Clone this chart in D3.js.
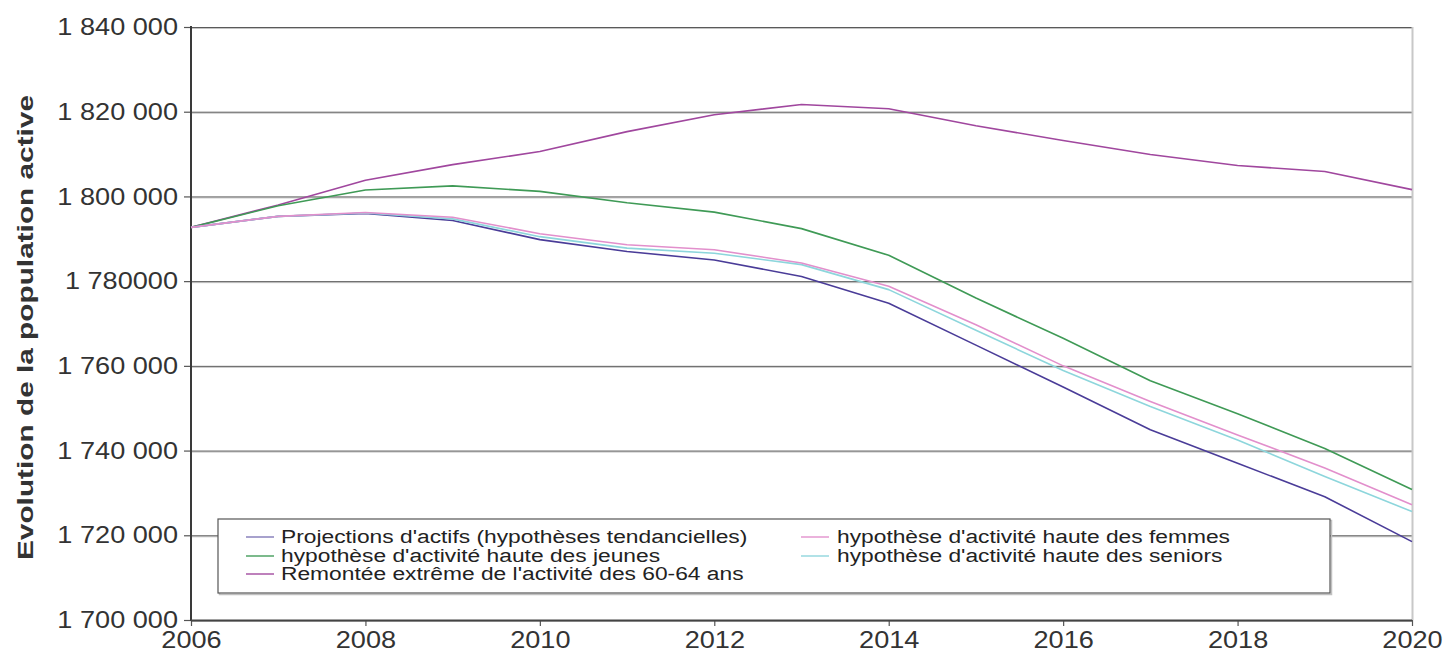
<!DOCTYPE html>
<html>
<head>
<meta charset="utf-8">
<script src="https://cdn.jsdelivr.net/npm/d3@7/dist/d3.min.js"></script>
<style>
  html, body { margin: 0; padding: 0; background: #fff; }
  svg { display: block; font-family: "Liberation Sans", Arial, sans-serif; }
</style>
</head>
<body>
<svg id="chart" width="1451" height="668"></svg>
<script>
// ---- data ----
const years = [2006, 2007, 2008, 2009, 2010, 2011, 2012, 2013, 2014, 2015, 2016, 2017, 2018, 2019, 2020];
const projections = [1792700, 1795300, 1796000, 1794300, 1789800, 1787000, 1785000, 1781100, 1774800, 1764900, 1755000, 1744900, 1737000, 1729100, 1718500];
const jeunes      = [1792700, 1797800, 1801500, 1802500, 1801200, 1798500, 1796300, 1792400, 1786100, 1776000, 1766500, 1756500, 1748700, 1740500, 1730800];
const remontee    = [1792700, 1798000, 1803800, 1807500, 1810600, 1815300, 1819300, 1821700, 1820700, 1816700, 1813200, 1809900, 1807300, 1805900, 1801600];
const femmes      = [1792700, 1795300, 1796200, 1795100, 1791200, 1788600, 1787400, 1784300, 1778800, 1769700, 1760000, 1751600, 1743700, 1735900, 1727200];
const seniors     = [1792700, 1795300, 1796100, 1794700, 1790500, 1787800, 1786600, 1783900, 1778000, 1768400, 1758900, 1750400, 1742500, 1733900, 1725600];
const yTickValues = [1700000, 1720000, 1740000, 1760000, 1780000, 1800000, 1820000, 1840000];
const yTickLabels = ["1 700 000", "1 720 000", "1 740 000", "1 760 000", "1 780000", "1 800 000", "1 820 000", "1 840 000"];
const xTickValues = [2006, 2008, 2010, 2012, 2014, 2016, 2018, 2020];
const seriesNames = [
  "Projections d'actifs (hypothèses tendancielles)",
  "hypothèse d'activité haute des jeunes",
  "Remontée extrême de l'activité des 60-64 ans",
  "hypothèse d'activité haute des femmes",
  "hypothèse d'activité haute des seniors"
];
const yTitle = "Evolution de la population active";

// ---- layout ----
const L = 191, R = 1412, T = 27, B = 620;
const STRETCH = 1.13;
const LEGEND_STRETCH = 1.265;
const svg = d3.select("#chart");
const x = d3.scaleLinear().domain([2006, 2020]).range([L, R]);
const y = d3.scaleLinear().domain([1700000, 1840000]).range([B, T]);

function stretch(sel, k) {
  sel.each(function () {
    const w = this.getComputedTextLength();
    d3.select(this).attr("textLength", w * k).attr("lengthAdjust", "spacingAndGlyphs");
  });
}

// gridlines (dark line + light shadow)
const grid = svg.append("g");
yTickValues.forEach(v => {
  grid.append("line").attr("x1", L).attr("x2", R).attr("y1", y(v) + 1.5).attr("y2", y(v) + 1.5)
    .attr("stroke", "#c4c4c4").attr("stroke-width", 1);
  grid.append("line").attr("x1", L).attr("x2", R).attr("y1", y(v) + 0.5).attr("y2", y(v) + 0.5)
    .attr("stroke", "#5a5a5a").attr("stroke-width", 1);
});
// right border
svg.append("line").attr("x1", R + 0.5).attr("x2", R + 0.5).attr("y1", T).attr("y2", B)
  .attr("stroke", "#c8c8c8").attr("stroke-width", 2);

// y axis
const yAxis = d3.axisLeft(y).tickValues(yTickValues)
  .tickFormat((d, i) => yTickLabels[i]).tickSize(7).tickPadding(6);
const gy = svg.append("g").attr("transform", `translate(${L},0)`).call(yAxis);
gy.select(".domain").remove();
gy.selectAll(".tick line").attr("stroke", "#555").attr("stroke-width", 1.2);
gy.selectAll(".tick text").attr("font-size", 24).attr("fill", "#333")
  .attr("font-family", "Liberation Sans, Arial, sans-serif").call(stretch, STRETCH);
svg.append("line").attr("x1", L).attr("x2", L).attr("y1", T - 1).attr("y2", B + 1)
  .attr("stroke", "#3a3a3a").attr("stroke-width", 2);

// x axis
const xAxis = d3.axisBottom(x).tickValues(xTickValues).tickFormat(d3.format("d"))
  .tickSize(6).tickPadding(5);
const gx = svg.append("g").attr("transform", `translate(0,${B})`).call(xAxis);
gx.select(".domain").remove();
gx.selectAll(".tick line").attr("stroke", "#555").attr("stroke-width", 1.2);
gx.selectAll(".tick text").attr("font-size", 24).attr("fill", "#333")
  .attr("font-family", "Liberation Sans, Arial, sans-serif").call(stretch, STRETCH);
svg.append("line").attr("x1", L).attr("x2", R).attr("y1", B + 0.5).attr("y2", B + 0.5)
  .attr("stroke", "#444").attr("stroke-width", 2);

// y title
svg.append("text")
  .attr("transform", `translate(33,${(95 + 560) / 2}) rotate(-90)`)
  .attr("text-anchor", "middle")
  .attr("font-size", 22).attr("font-weight", "bold").attr("fill", "#333")
  .attr("textLength", 465).attr("lengthAdjust", "spacingAndGlyphs")
  .text(yTitle);

// lines
const colors = ["#4a3c98", "#3f9a56", "#a0479e", "#e28fcc", "#8dd6dc"];
const allSeries = [projections, jeunes, remontee, femmes, seniors];
const line = d3.line().x((d, i) => x(years[i])).y(d => y(d));
const drawOrder = [2, 1, 0, 4, 3];
drawOrder.forEach(k => {
  svg.append("path").datum(allSeries[k]).attr("d", line)
    .attr("fill", "none").attr("stroke", colors[k]).attr("stroke-width", 1.6)
    .attr("stroke-linejoin", "round");
});

// legend
const lg = svg.append("g");
const lx0 = 218, ly0 = 519, lw = 1330 - 218, lh = 593 - 519;
lg.append("rect").attr("x", lx0 + 1.5).attr("y", ly0 + 1.5).attr("width", lw).attr("height", lh)
  .attr("fill", "none").attr("stroke", "#c0c0c0").attr("stroke-width", 1.5);
lg.append("rect").attr("x", lx0).attr("y", ly0).attr("width", lw).attr("height", lh)
  .attr("fill", "#fff").attr("stroke", "#555").attr("stroke-width", 1.2);
const legendPos = [
  { sx: 246, tx: 281, y: 537 },
  { sx: 246, tx: 281, y: 556 },
  { sx: 246, tx: 281, y: 574 },
  { sx: 801, tx: 837, y: 537 },
  { sx: 801, tx: 837, y: 556 }
];
seriesNames.forEach((name, k) => {
  const p = legendPos[k];
  lg.append("line").attr("x1", p.sx).attr("x2", p.sx + 28).attr("y1", p.y).attr("y2", p.y)
    .attr("stroke", colors[k]).attr("stroke-width", 1.6).attr("opacity", k === 0 ? 0.6 : 0.85);
  lg.append("text").attr("x", p.tx).attr("y", p.y).attr("dy", "0.36em")
    .attr("font-size", 18).attr("fill", "#222").text(name).call(stretch, LEGEND_STRETCH);
});
</script>
</body>
</html>
